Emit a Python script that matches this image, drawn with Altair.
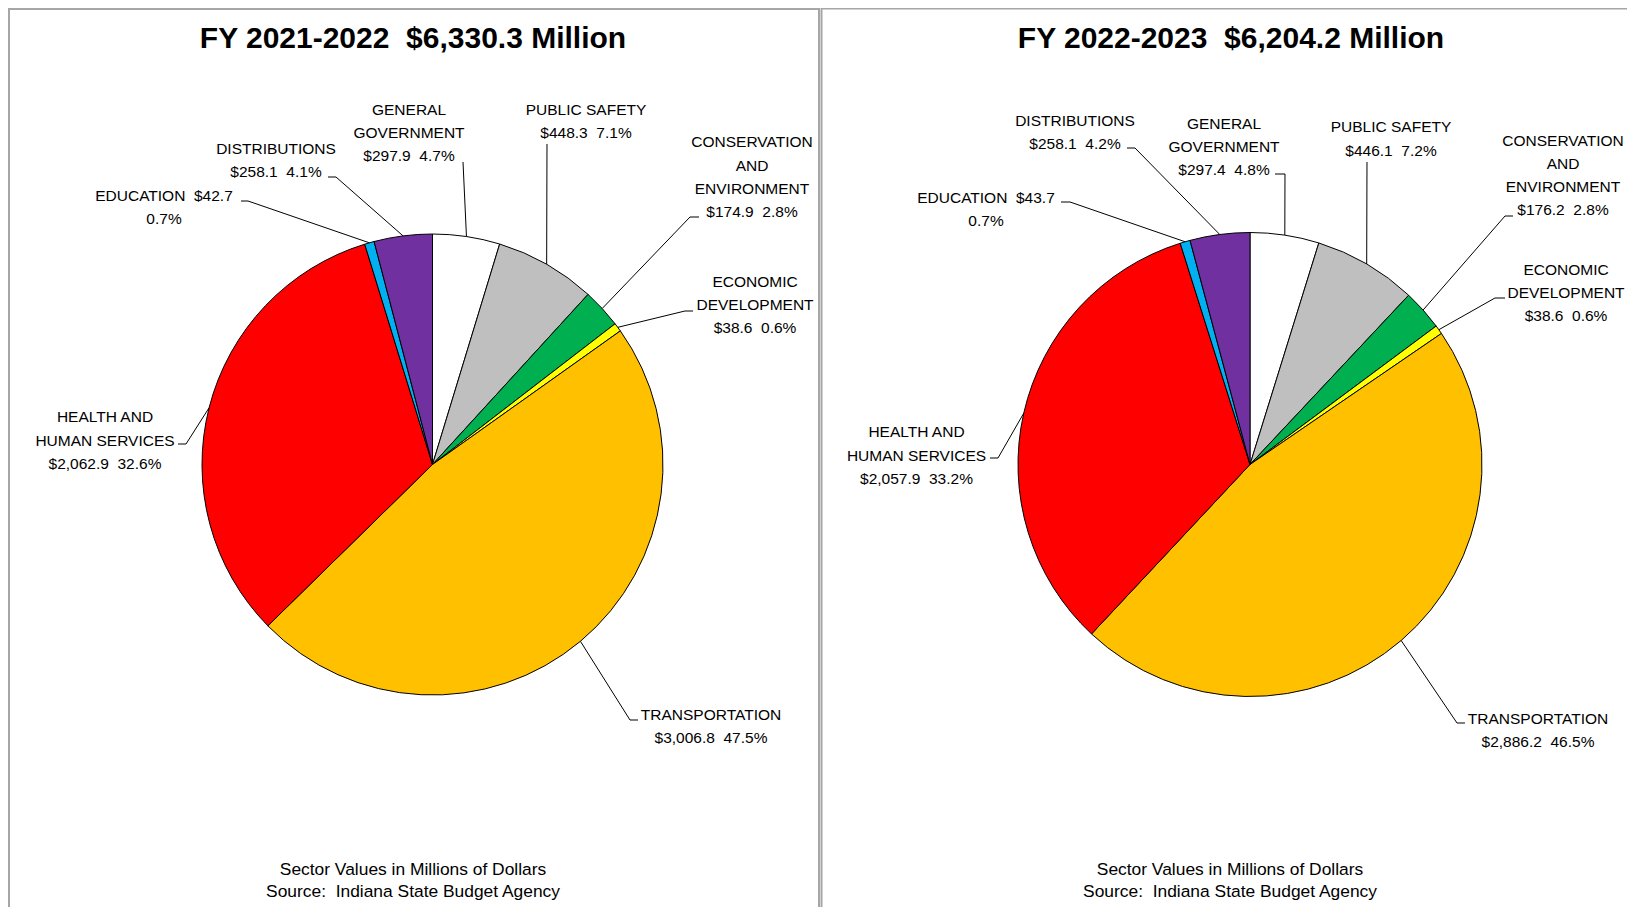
import math
import altair as alt
import pandas as pd

# ---------------- data ----------------
SECTORS = ["GENERAL GOVERNMENT", "PUBLIC SAFETY", "CONSERVATION AND ENVIRONMENT",
           "ECONOMIC DEVELOPMENT", "TRANSPORTATION", "HEALTH AND HUMAN SERVICES",
           "EDUCATION", "DISTRIBUTIONS"]
COLORS = ["#FFFFFF", "#BFBFBF", "#00B050", "#FFFF00", "#FFC000", "#FF0000", "#00B0F0", "#7030A0"]

FY22_VALUES = [297.9, 448.3, 174.9, 38.6, 3006.8, 2062.9, 42.7, 258.1]
FY22_PCT = [4.7, 7.1, 2.8, 0.6, 47.5, 32.6, 0.7, 4.1]
FY23_VALUES = [297.4, 446.1, 176.2, 38.6, 2886.2, 2057.9, 43.7, 258.1]
FY23_PCT = [4.8, 7.2, 2.8, 0.6, 46.5, 33.2, 0.7, 4.2]

TITLES = ["FY 2021-2022  $6,330.3 Million", "FY 2022-2023  $6,204.2 Million"]
FOOTER = ["Sector Values in Millions of Dollars", "Source:  Indiana State Budget Agency"]

LINE_TEMPLATES = {
    "GENERAL GOVERNMENT": ["GENERAL", "GOVERNMENT", "{v}  {p}"],
    "PUBLIC SAFETY": ["PUBLIC SAFETY", "{v}  {p}"],
    "CONSERVATION AND ENVIRONMENT": ["CONSERVATION", "AND", "ENVIRONMENT", "{v}  {p}"],
    "ECONOMIC DEVELOPMENT": ["ECONOMIC", "DEVELOPMENT", "{v}  {p}"],
    "TRANSPORTATION": ["TRANSPORTATION", "{v}  {p}"],
    "HEALTH AND HUMAN SERVICES": ["HEALTH AND", "HUMAN SERVICES", "{v}  {p}"],
    "EDUCATION": ["EDUCATION  {v}", "{p}"],
    "DISTRIBUTIONS": ["DISTRIBUTIONS", "{v}  {p}"],
}

# ---------------- layout (page pixels) ----------------
W, H = 1619, 899
OFF = 8
FONT = "Liberation Sans, Arial, sans-serif"
LABEL_FS = 15.5
LINE_H = 23.3

PANELS = [
    dict(values=FY22_VALUES, pct=FY22_PCT, title=TITLES[0], cx=432.5, cy=464.5, R=230.5,
         title_x=413, footer_x=413,
         labels={
             "GENERAL GOVERNMENT": (409, 109, (463, 162), (463, 162)),
             "PUBLIC SAFETY": (586, 109, (547, 144), (547, 144)),
             "CONSERVATION AND ENVIRONMENT": (752, 141.7, (690, 217), (699, 217)),
             "ECONOMIC DEVELOPMENT": (755, 281, (685, 311), (693, 311)),
             "TRANSPORTATION": (711, 714.3, (630, 720), (638, 720)),
             "HEALTH AND HUMAN SERVICES": (105, 416.7, (186, 444), (178, 444)),
             "EDUCATION": (164, 195, (248, 201), (241, 201)),
             "DISTRIBUTIONS": (276, 148.3, (336, 177), (328, 177)),
         }),
    dict(values=FY23_VALUES, pct=FY23_PCT, title=TITLES[1], cx=1250, cy=464.5, R=232,
         title_x=1231, footer_x=1230,
         labels={
             "GENERAL GOVERNMENT": (1224, 123.3, (1285, 174), (1275, 174)),
             "PUBLIC SAFETY": (1391, 126.7, (1367, 162), (1367, 162)),
             "CONSERVATION AND ENVIRONMENT": (1563, 140, (1505, 216), (1513, 216)),
             "ECONOMIC DEVELOPMENT": (1566, 269.3, (1495, 298), (1505, 298)),
             "TRANSPORTATION": (1538, 718.3, (1457, 723), (1465, 723)),
             "HEALTH AND HUMAN SERVICES": (916.5, 431.7, (998, 458), (990, 458)),
             "EDUCATION": (986, 197.3, (1070, 202), (1061, 202)),
             "DISTRIBUTIONS": (1075, 120, (1135, 148), (1127, 148)),
         }),
]


def sp(s):
    return s.replace("  ", " \u00a0")


XS = alt.Scale(domain=[0, W], nice=False, zero=False)
YS = alt.Scale(domain=[0, H], nice=False, zero=False, reverse=True)

layers = []

# borders
BORDER = "#A6A6A6"
border_specs = [
    dict(x=alt.value(1), y=alt.value(0), y2=alt.value(H)),
    dict(x=alt.value(811), y=alt.value(0), y2=alt.value(H)),
    dict(x=alt.value(813.5), y=alt.value(0), y2=alt.value(H)),
    dict(x=alt.value(0), x2=alt.value(812), y=alt.value(1)),
    dict(x=alt.value(813), x2=alt.value(W), y=alt.value(0.5)),
]
for b in border_specs:
    layers.append(alt.Chart(pd.DataFrame({"k": [0]})).mark_rule(color=BORDER, strokeWidth=2).encode(**b))

seg_rows = []
label_rows = []
title_rows = []
footer_rows = []

for p in PANELS:
    df = pd.DataFrame({"sector": SECTORS, "value": p["values"], "idx": list(range(len(SECTORS)))})
    arc = alt.Chart(df).mark_arc(stroke="black", strokeWidth=1).encode(
        theta=alt.Theta("value:Q", stack="normalize"),
        color=alt.Color("sector:N", scale=alt.Scale(domain=SECTORS, range=COLORS), legend=None),
        order=alt.Order("idx:Q", sort="ascending"),
        x=alt.value(p["cx"] - OFF),
        y=alt.value(p["cy"] - OFF),
        radius=alt.value(p["R"]),
    )
    layers.append(arc)

    total = sum(p["values"])
    cum = 0.0
    for s, v, pc in zip(SECTORS, p["values"], p["pct"]):
        mid = (cum + v / 2) / total
        cum += v
        a = 2 * math.pi * mid
        ex = p["cx"] + p["R"] * math.sin(a)
        ey = p["cy"] - p["R"] * math.cos(a)
        tx, ty, elbow, end = p["labels"][s]
        seg_rows.append(dict(x=ex - OFF, y=ey - OFF, x2=elbow[0] - OFF, y2=elbow[1] - OFF))
        if end != elbow:
            seg_rows.append(dict(x=elbow[0] - OFF, y=elbow[1] - OFF, x2=end[0] - OFF, y2=end[1] - OFF))
        vs = f"${v:,.1f}"
        ps = f"{pc:.1f}%"
        for i, t in enumerate(LINE_TEMPLATES[s]):
            label_rows.append(dict(x=tx - OFF, y=ty + i * LINE_H + 0.36 * LABEL_FS - OFF,
                                   text=sp(t.format(v=vs, p=ps))))
    title_rows.append(dict(x=p["title_x"] - OFF, y=48.3 - OFF, text=sp(p["title"])))
    footer_rows.append(dict(x=p["footer_x"] - OFF, y=874.6 - OFF, text=sp(FOOTER[0])))
    footer_rows.append(dict(x=p["footer_x"] - OFF, y=897.3 - OFF, text=sp(FOOTER[1])))

segs = alt.Chart(pd.DataFrame(seg_rows)).mark_rule(color="black", strokeWidth=1).encode(
    x=alt.X("x:Q", scale=XS, axis=None),
    y=alt.Y("y:Q", scale=YS, axis=None),
    x2="x2:Q",
    y2="y2:Q",
)
layers.append(segs)

labels = alt.Chart(pd.DataFrame(label_rows)).mark_text(
    font=FONT, fontSize=LABEL_FS, align="center", baseline="alphabetic", color="black"
).encode(
    x=alt.X("x:Q", scale=XS, axis=None),
    y=alt.Y("y:Q", scale=YS, axis=None),
    text="text:N",
)
layers.append(labels)

titles = alt.Chart(pd.DataFrame(title_rows)).mark_text(
    font=FONT, fontSize=30, fontWeight="bold", align="center", baseline="alphabetic", color="black"
).encode(
    x=alt.X("x:Q", scale=XS, axis=None),
    y=alt.Y("y:Q", scale=YS, axis=None),
    text="text:N",
)
layers.append(titles)

footers = alt.Chart(pd.DataFrame(footer_rows)).mark_text(
    font=FONT, fontSize=17.4, align="center", baseline="alphabetic", color="black"
).encode(
    x=alt.X("x:Q", scale=XS, axis=None),
    y=alt.Y("y:Q", scale=YS, axis=None),
    text="text:N",
)
layers.append(footers)

chart = alt.layer(*layers).properties(
    width=W, height=H,
    autosize=alt.AutoSizeParams(type="none"),
    padding=0,
    background="white",
).configure_view(stroke=None)

chart.save("out.html", embed_options={"renderer": "svg", "actions": False})
